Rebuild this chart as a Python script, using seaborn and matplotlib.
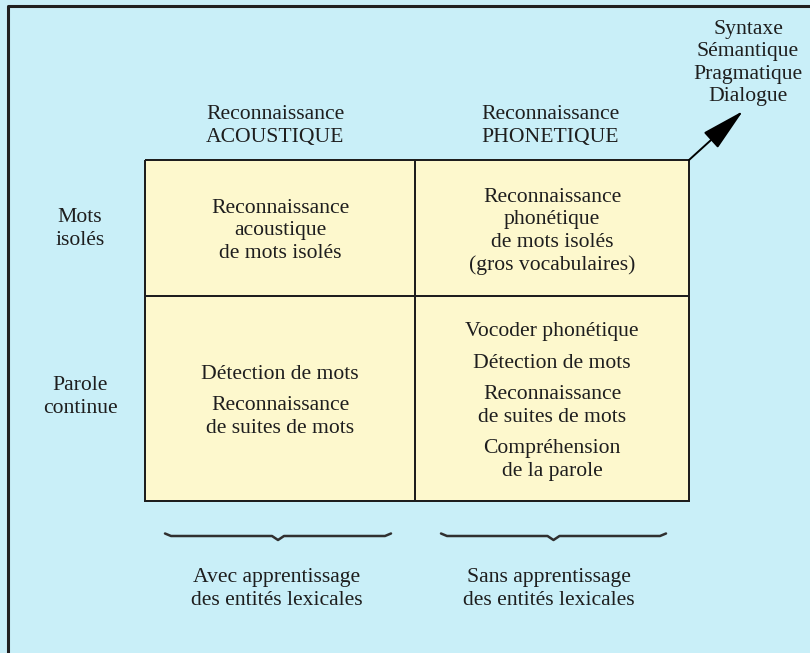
import matplotlib
matplotlib.use("Agg")
import matplotlib.pyplot as plt
import numpy as np
import seaborn as sns

# Contenu du schéma
col_headers = ["Reconnaissance\nACOUSTIQUE", "Reconnaissance\nPHONETIQUE"]
row_headers = ["Mots\nisolés", "Parole\ncontinue"]
cell_groups = [
    [["Reconnaissance", "acoustique", "de mots isolés"]],
    [["Reconnaissance", "phonétique", "de mots isolés", "(gros vocabulaires)"]],
    [["Détection de mots"], ["Reconnaissance", "de suites de mots"]],
    [["Vocoder phonétique"], ["Détection de mots"],
     ["Reconnaissance", "de suites de mots"], ["Compréhension", "de la parole"]],
]
arrow_labels = ["Syntaxe", "Sémantique", "Pragmatique", "Dialogue"]
bottom_labels = ["Avec apprentissage\ndes entités lexicales",
                 "Sans apprentissage\ndes entités lexicales"]

# Géométrie (pixels)
x_edges = [145, 415, 689]
y_edges = [160, 296, 501]
cell_values = np.ones((2, 2))

bg = "#c9eff8"
cell_color = "#fdf8cd"
ink = "#1e1e1e"

sns.set_theme(style="white")
plt.rcParams["font.family"] = ["Liberation Serif", "DejaVu Serif"]

fig = plt.figure(figsize=(8.1, 6.53), dpi=100)
fig.patch.set_facecolor(bg)
ax = fig.add_axes([0, 0, 1, 1])
ax.set_facecolor(bg)
ax.set_xlim(0, 810)
ax.set_ylim(653, 0)
ax.axis("off")

fs = 15.6
lh = 22.5  # hauteur de ligne
gap = 9    # espace entre groupes

# Cadre (haut et gauche)
ax.plot([8, 8, 810], [653, 6, 6], color="#202020", lw=2.2, solid_capstyle="butt")

# Grille 2x2
ax.pcolormesh(x_edges, y_edges, cell_values, cmap=matplotlib.colors.ListedColormap([cell_color]),
              edgecolors=ink, linewidth=1.4)

xc = [(x_edges[i] + x_edges[i + 1]) / 2 for i in range(2)]
yc = [(y_edges[i] + y_edges[i + 1]) / 2 for i in range(2)]


def block(x, y_center, lines_groups):
    n = sum(len(g) for g in lines_groups)
    total = (n - 1) * lh + (len(lines_groups) - 1) * gap
    y = y_center - total / 2
    for g in lines_groups:
        for line in g:
            ax.text(x, y, line, ha="center", va="center", fontsize=fs, color=ink)
            y += lh
        y += gap


for k, groups in enumerate(cell_groups):
    r, c = divmod(k, 2)
    block(xc[c], yc[r] + 3, groups)

# En-têtes
for c, h in enumerate(col_headers):
    block(xc[c] - 5 + 3 * c, 126, [h.split("\n")])
for r, h in enumerate(row_headers):
    block(80, [229, 397][r], [h.split("\n")])

# Flèche et niveaux supérieurs
block(748, 63, [arrow_labels])
ax.annotate("", xy=(743, 111), xytext=(689, 160),
            arrowprops=dict(arrowstyle="-|>,head_length=2.3,head_width=0.55",
                            color="black", lw=1.4, shrinkA=0, shrinkB=0))

# Accolades
for x0, x1 in [(165, 391), (441, 666)]:
    xm = (x0 + x1) / 2
    bx = [x0, x0 + 6, xm - 6, xm, xm + 6, x1 - 6, x1]
    by = [533.5, 536, 536, 540, 536, 536, 533.5]
    ax.plot(bx, by, color="#303030", lw=1.8, solid_joinstyle="round")

for c, t in enumerate(bottom_labels):
    block(xc[c] - 3, 589, [t.split("\n")])

fig.savefig("out.png", dpi=100, facecolor=bg)
